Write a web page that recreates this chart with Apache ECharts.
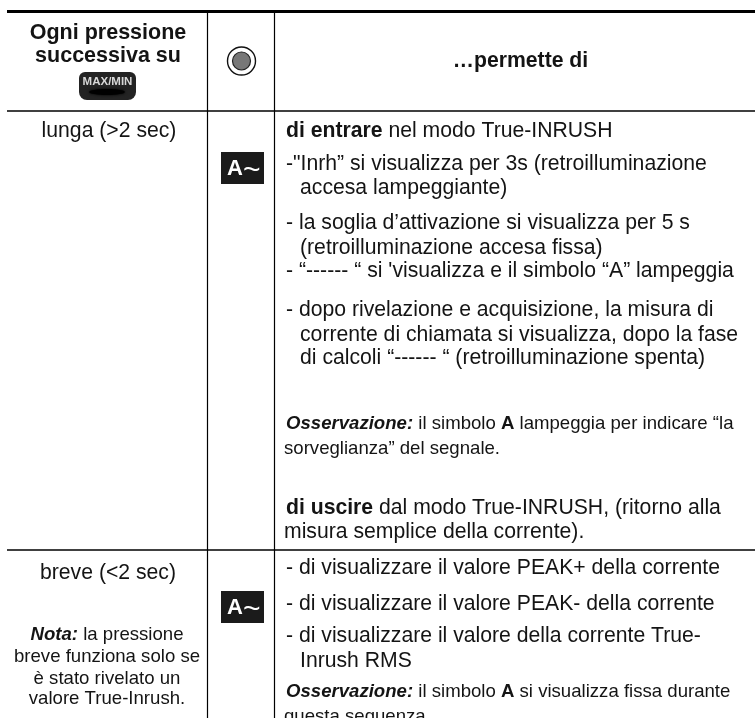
<!DOCTYPE html>
<html>
<head>
<meta charset="utf-8">
<title>True-INRUSH</title>
<style>
html, body { margin: 0; padding: 0; background: #fff; }
#main { width: 755px; height: 718px; }
</style>
<script src="https://cdn.jsdelivr.net/npm/echarts@6/dist/echarts.min.js"></script>
</head>
<body>
<div id="main"></div>
<script>
//== testi della tabella
var headerLeft = ['Ogni pressione', 'successiva su'];
var headerRight = ['…permette di'];
var buttonLabel = ['MAX/MIN'];
var iconLabel = ['A', '~'];
var pressLong = ['lunga (>2 sec)'];
var pressShort = ['breve (<2 sec)'];
var noteShort = [
    '{bi|Nota:} {n|la pressione}',
    '{n|breve funziona solo se}',
    '{n|è stato rivelato un}',
    '{n|valore True-Inrush.}'
];
var actionsLong = [
    '{b|di entrare} {n|nel modo True-INRUSH}',
    '{n|-"Inrh” si visualizza per 3s (retroilluminazione}',
    '{n|accesa lampeggiante)}',
    '{n|- la soglia d’attivazione si visualizza per 5 s}',
    '{n|(retroilluminazione accesa fissa)}',
    '{n|- “------ “ si \'visualizza e il simbolo “A” lampeggia}',
    '{n|- dopo rivelazione e acquisizione, la misura di}',
    '{n|corrente di chiamata si visualizza, dopo la fase}',
    '{n|di calcoli “------ “ (retroilluminazione spenta)}'
];
var remarkLong = [
    '{bi|Osservazione:} {n|il simbolo} {b|A} {n|lampeggia per indicare “la}',
    '{n|sorveglianza” del segnale.}'
];
var exitLong = [
    '{b|di uscire} {n|dal modo True-INRUSH, (ritorno alla}',
    '{n|misura semplice della corrente).}'
];
var actionsShort = [
    '{n|- di visualizzare il valore PEAK+ della corrente}',
    '{n|- di visualizzare il valore PEAK- della corrente}',
    '{n|- di visualizzare il valore della corrente True-}',
    '{n|Inrush RMS}'
];
var remarkShort = [
    '{bi|Osservazione:} {n|il simbolo} {b|A} {n|si visualizza fissa durante}',
    '{n|questa sequenza}'
];

var FONT = '"Liberation Sans", Arial, sans-serif';
var INK = '#141414';
var BODY = 21.2;
var SMALL = 18.6;

/**
 * stili rich per una dimensione
 *
 * @param size {number} dimensione del font
 */
var richFor = function (size) {
    return {
        n: { fontFamily: FONT, fontSize: size, fill: INK },
        b: { fontFamily: FONT, fontSize: size, fontWeight: 'bold', fill: INK },
        bi: { fontFamily: FONT, fontSize: size, fontWeight: 'bold', fontStyle: 'italic', fill: INK }
    };
};

/**
 * riga di testo posizionata sulla linea di base
 */
var line = function (text, x, base, size, align) {
    return {
        type: 'text',
        x: x,
        y: base - size * 0.34,
        style: {
            text: text,
            align: align || 'left',
            verticalAlign: 'middle',
            fontFamily: FONT,
            fontSize: size,
            fill: INK,
            rich: richFor(size)
        }
    };
};

var rule = function (x1, y1, x2, y2, width) {
    return {
        type: 'line',
        shape: { x1: x1, y1: y1, x2: x2, y2: y2 },
        style: { stroke: '#000', lineWidth: width }
    };
};

var iconBox = function (top) {
    return {
        type: 'group',
        children: [
            { type: 'rect', shape: { x: 221, y: top, width: 43, height: 32 }, style: { fill: '#1b1b1b' } },
            { type: 'text', x: 227, y: top + 17, style: { text: iconLabel[0], fontFamily: FONT, fontSize: 22, fontWeight: 'bold', fill: '#fff', verticalAlign: 'middle' } },
            { type: 'text', x: 243, y: top + 19, style: { text: iconLabel[1], fontFamily: FONT, fontSize: 30, fill: '#fff', verticalAlign: 'middle' } }
        ]
    };
};

var elements = [
    rule(7, 11.5, 755, 11.5, 3),
    rule(7, 111, 755, 111, 1.5),
    rule(7, 550, 755, 550, 1.5),
    rule(207.5, 13, 207.5, 718, 1.2),
    rule(274.5, 13, 274.5, 718, 1.2),

    //== pulsante MAX/MIN
    { type: 'rect', shape: { x: 79, y: 72, width: 57, height: 28, r: [6, 6, 8, 8] }, style: { fill: '#232323' } },
    { type: 'ellipse', shape: { cx: 107, cy: 92, rx: 18, ry: 3 }, style: { fill: '#000', shadowBlur: 3, shadowColor: '#000' } },
    { type: 'text', x: 107.5, y: 81.5, style: { text: buttonLabel[0], align: 'center', verticalAlign: 'middle', fontFamily: FONT, fontSize: 11.5, fontWeight: 'bold', fill: '#d8d8d8' } },

    //== simbolo del commutatore
    { type: 'circle', shape: { cx: 241.5, cy: 61, r: 14 }, style: { fill: '#fff', stroke: '#111', lineWidth: 1.4 } },
    { type: 'circle', shape: { cx: 241.5, cy: 61, r: 9 }, style: { fill: '#777', stroke: '#222', lineWidth: 1.2 } },

    iconBox(152),
    iconBox(591),

    line('{b|' + headerLeft[0] + '}', 108, 40, 21.5, 'center'),
    line('{b|' + headerLeft[1] + '}', 108, 63, 21.5, 'center'),
    line('{b|' + headerRight[0] + '}', 520.5, 68, BODY, 'center'),
    line(pressLong[0], 109, 138, BODY, 'center'),
    line(pressShort[0], 108, 580, BODY, 'center')
];

var pushLines = function (lines, xs, bases, size, align) {
    lines.forEach(function (text, i) {
        elements.push(line(text, xs[i], bases[i], size, align));
    });
};

pushLines(noteShort, [107, 107, 107, 107], [641, 663, 685, 705], SMALL, 'center');
pushLines(actionsLong, [286, 286, 300, 286, 300, 286, 286, 300, 300],
    [138, 171, 195, 230, 255, 278, 317, 342, 365], BODY);
pushLines(remarkLong, [286, 284], [430, 455], SMALL);
pushLines(exitLong, [286, 284], [515, 539], BODY);
pushLines(actionsShort, [286, 286, 286, 300], [575, 611, 643, 668], BODY);
pushLines(remarkShort, [286, 284], [698, 723], SMALL);

var myChart = echarts.init(document.getElementById('main'), null, { renderer: 'canvas' });
var option = {
    backgroundColor: '#fff',
    animation: false,
    graphic: { elements: elements }
};
myChart.setOption(option, true);
</script>
</body>
</html>
